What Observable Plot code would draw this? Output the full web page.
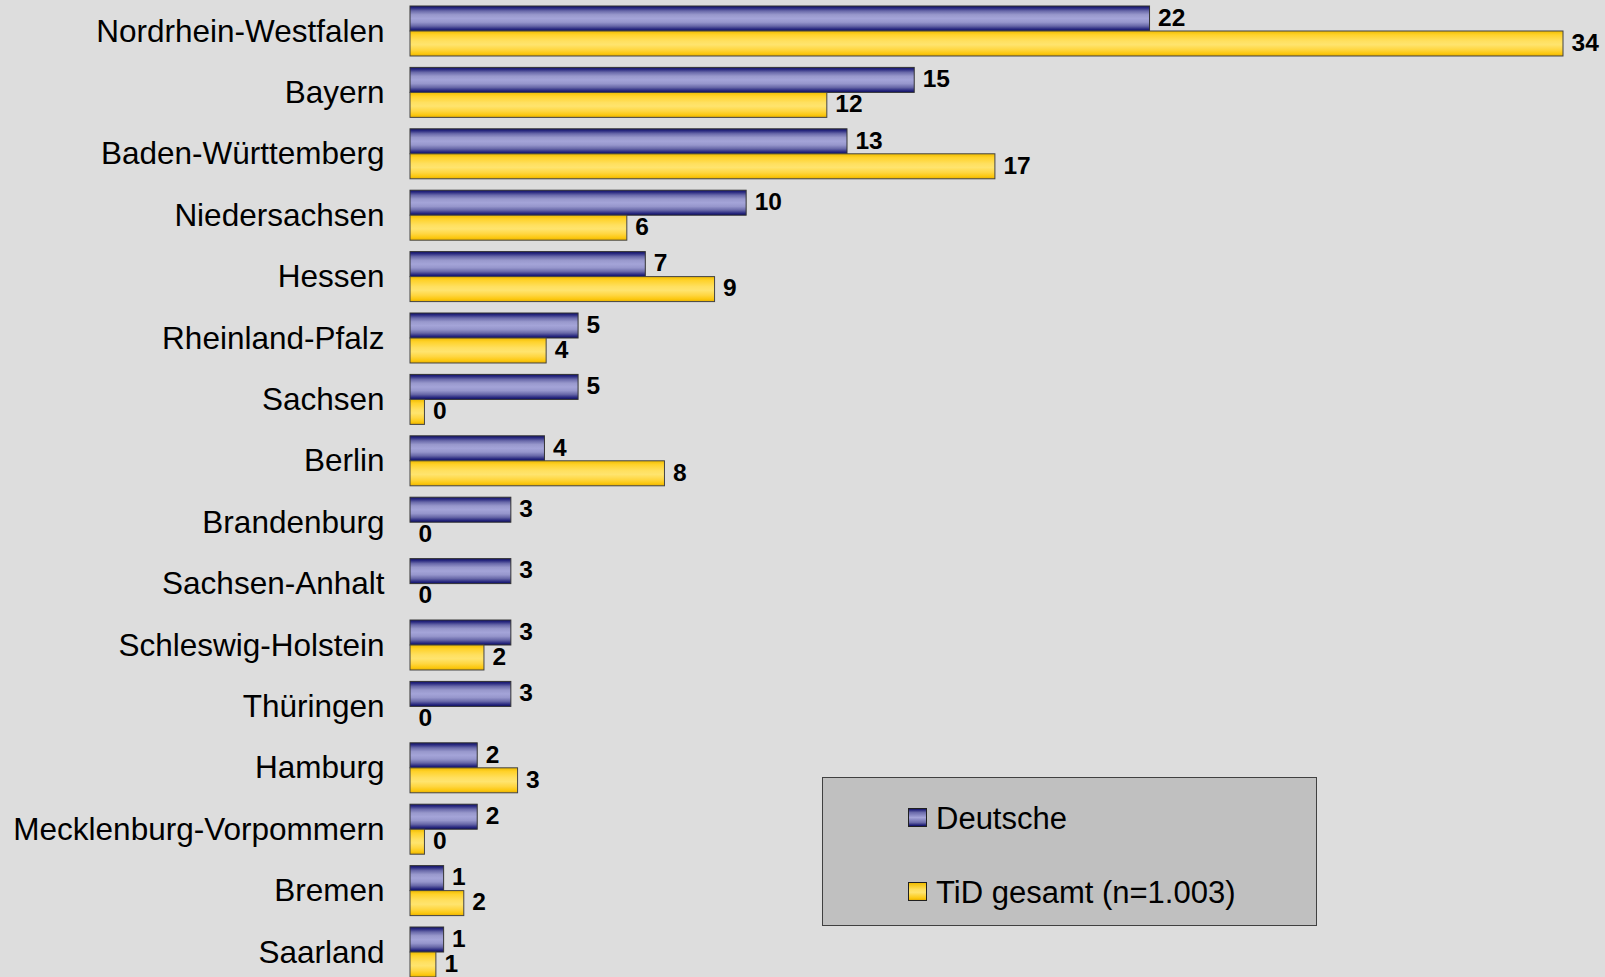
<!DOCTYPE html>
<html>
<head>
<meta charset="utf-8">
<script src="https://cdn.jsdelivr.net/npm/d3@7"></script>
<script src="https://cdn.jsdelivr.net/npm/@observablehq/plot@0.6"></script>
<style>
  html, body { margin: 0; padding: 0; background: #dddddd; }
  #wrap { position: relative; width: 1605px; height: 977px; overflow: hidden; font-family: "Liberation Sans", Arial, sans-serif; }
  #legend { position: absolute; left: 822px; top: 777px; width: 495px; height: 149px; background: #c0c0c0; border: 1px solid #404040; box-sizing: border-box; }
  .item { position: absolute; left: 85px; font-size: 31px; color: #000; line-height: 1; white-space: nowrap; }
  .sw { position: absolute; left: 0; width: 17px; height: 17px; border: 1px solid #202020; }
  .item span.t { position: absolute; left: 28px; top: 0; }
</style>
</head>
<body>
<div id="wrap">
  <div id="chart"></div>
  <div id="legend">
    <div class="item" style="top:25px;"><div class="sw" style="top:5px;background:linear-gradient(#10106a 0%,#6a6aaa 20%,#a4a4d8 50%,#6868a8 80%,#0a0a66 100%);"></div><span class="t">Deutsche</span></div>
    <div class="item" style="top:99px;"><div class="sw" style="top:5px;background:linear-gradient(#f0bc00 0%,#ffe060 40%,#ffe46e 55%,#fcc810 90%,#e8b000 100%);"></div><span class="t">TiD gesamt (n=1.003)</span></div>
  </div>
</div>
<script>
const states = ["Nordrhein-Westfalen","Bayern","Baden-Württemberg","Niedersachsen","Hessen","Rheinland-Pfalz","Sachsen","Berlin","Brandenburg","Sachsen-Anhalt","Schleswig-Holstein","Thüringen","Hamburg","Mecklenburg-Vorpommern","Bremen","Saarland"];
const series = ["Deutsche", "TiD gesamt (n=1.003)"];
const deutsche = [22, 15, 13, 10, 7, 5, 5, 4, 3, 3, 3, 3, 2, 2, 1, 1];
const tid = [34.3, 12.4, 17.4, 6.45, 9.06, 4.05, 0.43, 7.57, 0, 0, 2.2, 0, 3.2, 0.43, 1.6, 0.77];

const rowsD = states.map((s, i) => ({state: s, series: series[0], value: deutsche[i]}));
const rowsT = states.map((s, i) => ({state: s, series: series[1], value: tid[i]}));
const rows = rowsD.concat(rowsT);

const chart = Plot.plot({
  width: 1605,
  height: 977,
  marginLeft: 410,
  marginRight: 42,
  marginTop: 6,
  marginBottom: 0,
  style: {background: "transparent", fontFamily: "'Liberation Sans', Arial, sans-serif", color: "#000"},
  x: {domain: [0, 34.3], axis: null},
  y: {domain: series, padding: 0, round: false, axis: null},
  fy: {domain: states, paddingInner: 0.186, paddingOuter: 0, round: false, axis: null},
  marks: [
    Plot.barX(rowsD, {fy: "state", y: "series", x: "value", fill: "url(#gBlue)", stroke: "#333", strokeWidth: 1}),
    Plot.barX(rowsT, {fy: "state", y: "series", x: "value", fill: "url(#gYellow)", stroke: "#444", strokeWidth: 1}),
    Plot.text(rows, {fy: "state", y: "series", x: "value", text: d => String(Math.round(d.value)), dx: 8, dy: -1, textAnchor: "start", fontWeight: "bold", fontSize: 24.5, fill: "#000"}),
    Plot.text(states, {fy: d => d, text: d => d, frameAnchor: "left", dx: -26, textAnchor: "end", fontSize: 31.5, fill: "#000"})
  ]
});

const defs = `
<linearGradient id="gBlue" x1="0" y1="0" x2="0" y2="1">
  <stop offset="0%" stop-color="#10106a"/>
  <stop offset="8%" stop-color="#2a2a80"/>
  <stop offset="20%" stop-color="#6a6aaa"/>
  <stop offset="35%" stop-color="#9898cc"/>
  <stop offset="50%" stop-color="#a4a4d8"/>
  <stop offset="65%" stop-color="#9696cc"/>
  <stop offset="80%" stop-color="#6868a8"/>
  <stop offset="92%" stop-color="#2a2a80"/>
  <stop offset="100%" stop-color="#0a0a66"/>
</linearGradient>
<linearGradient id="gYellow" x1="0" y1="0" x2="0" y2="1">
  <stop offset="0%" stop-color="#f0bc00"/>
  <stop offset="15%" stop-color="#ffd22a"/>
  <stop offset="40%" stop-color="#ffe060"/>
  <stop offset="55%" stop-color="#ffe46e"/>
  <stop offset="75%" stop-color="#ffd640"/>
  <stop offset="90%" stop-color="#fcc810"/>
  <stop offset="100%" stop-color="#e8b000"/>
</linearGradient>`;
d3.select(chart).insert("defs", ":first-child").html(defs);
document.getElementById("chart").appendChild(chart);
</script>
</body>
</html>
